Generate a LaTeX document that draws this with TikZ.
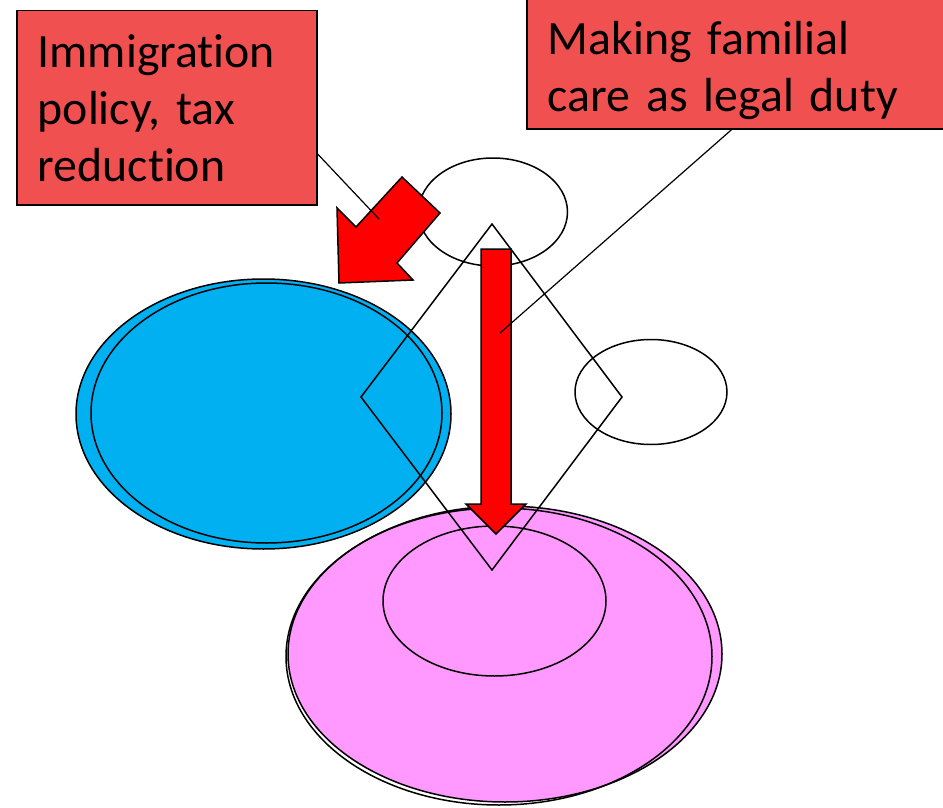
\documentclass[tikz,border=0pt]{standalone}
\usepackage{fontspec}
\setmainfont{Carlito}[Ligatures=NoCommon]
\usetikzlibrary{shapes.geometric}

\definecolor{boxred}{RGB}{240,80,80}
\definecolor{skyblue}{RGB}{0,176,240}
\definecolor{lightpink}{RGB}{255,153,255}

\tikzset{
  policybox/.style={draw=black, line width=1.5pt, fill=boxred, anchor=north west,
        align=left, inner xsep=21pt, inner ysep=0pt,
        font=\fontsize{47.8}{57}\selectfont},
  ring/.style={ellipse, draw=black, line width=1.5pt, inner sep=0pt},
  fatarrow/.style={draw=black, line width=1.5pt, fill=red, line join=miter},
  pointer/.style={line width=1.2pt},
}

\begin{document}
\begin{tikzpicture}[x=1pt, y=-1pt]
\useasboundingbox (0,0) rectangle (943,808);

% blue and pink fields
\node[ring, fill=skyblue, minimum width=375pt, minimum height=270pt] (carer) at (263.5,414) {};
\node[ring, fill=skyblue, minimum width=351pt, minimum height=260pt] (carerin) at (266.5,413) {};
\node[ring, fill=lightpink, minimum width=434pt, minimum height=296pt] (family) at (505,654) {};
\node[ring, minimum width=426pt, minimum height=297pt] (familyrim) at (499,656.5) {};
\node[ring, minimum width=223pt, minimum height=150pt] (home) at (494.5,601) {};

% open rings
\node[ring, minimum width=149pt, minimum height=108pt] (state) at (493,212) {};
\node[ring, minimum width=152pt, minimum height=105pt] (market) at (651,392) {};

\draw[line width=1.5pt, line join=miter]
        (492,224) -- (622,397) -- (492,570) -- (361,397) -- cycle;

% fat arrows
\draw[fatarrow] (402,177) -- (440,213) -- (397,263) -- (413,280)
        -- (339,283) -- (337,208) -- (356,227) -- cycle;
\draw[fatarrow] (481,249) -- (511,249) -- (511,504) -- (526,504)
        -- (496,534) -- (466,504) -- (481,504) -- cycle;

% policy boxes
\node[policybox, text width=258pt, minimum height=194pt] (imm) at (16,10)
        {Immigration\\policy, tax\\reduction};
\node[policybox, text width=380pt, text height=46pt, minimum height=130pt] (duty) at (526,-2)
        {Making familial\\care as legal duty};

\coordinate (immpin) at (379,219);
\coordinate (dutypin) at (500,333);
\draw[pointer] (imm.-17.7) -- (immpin);
\draw[pointer] ([xshift=-6pt]duty.south) -- (dutypin);
\end{tikzpicture}
\end{document}
